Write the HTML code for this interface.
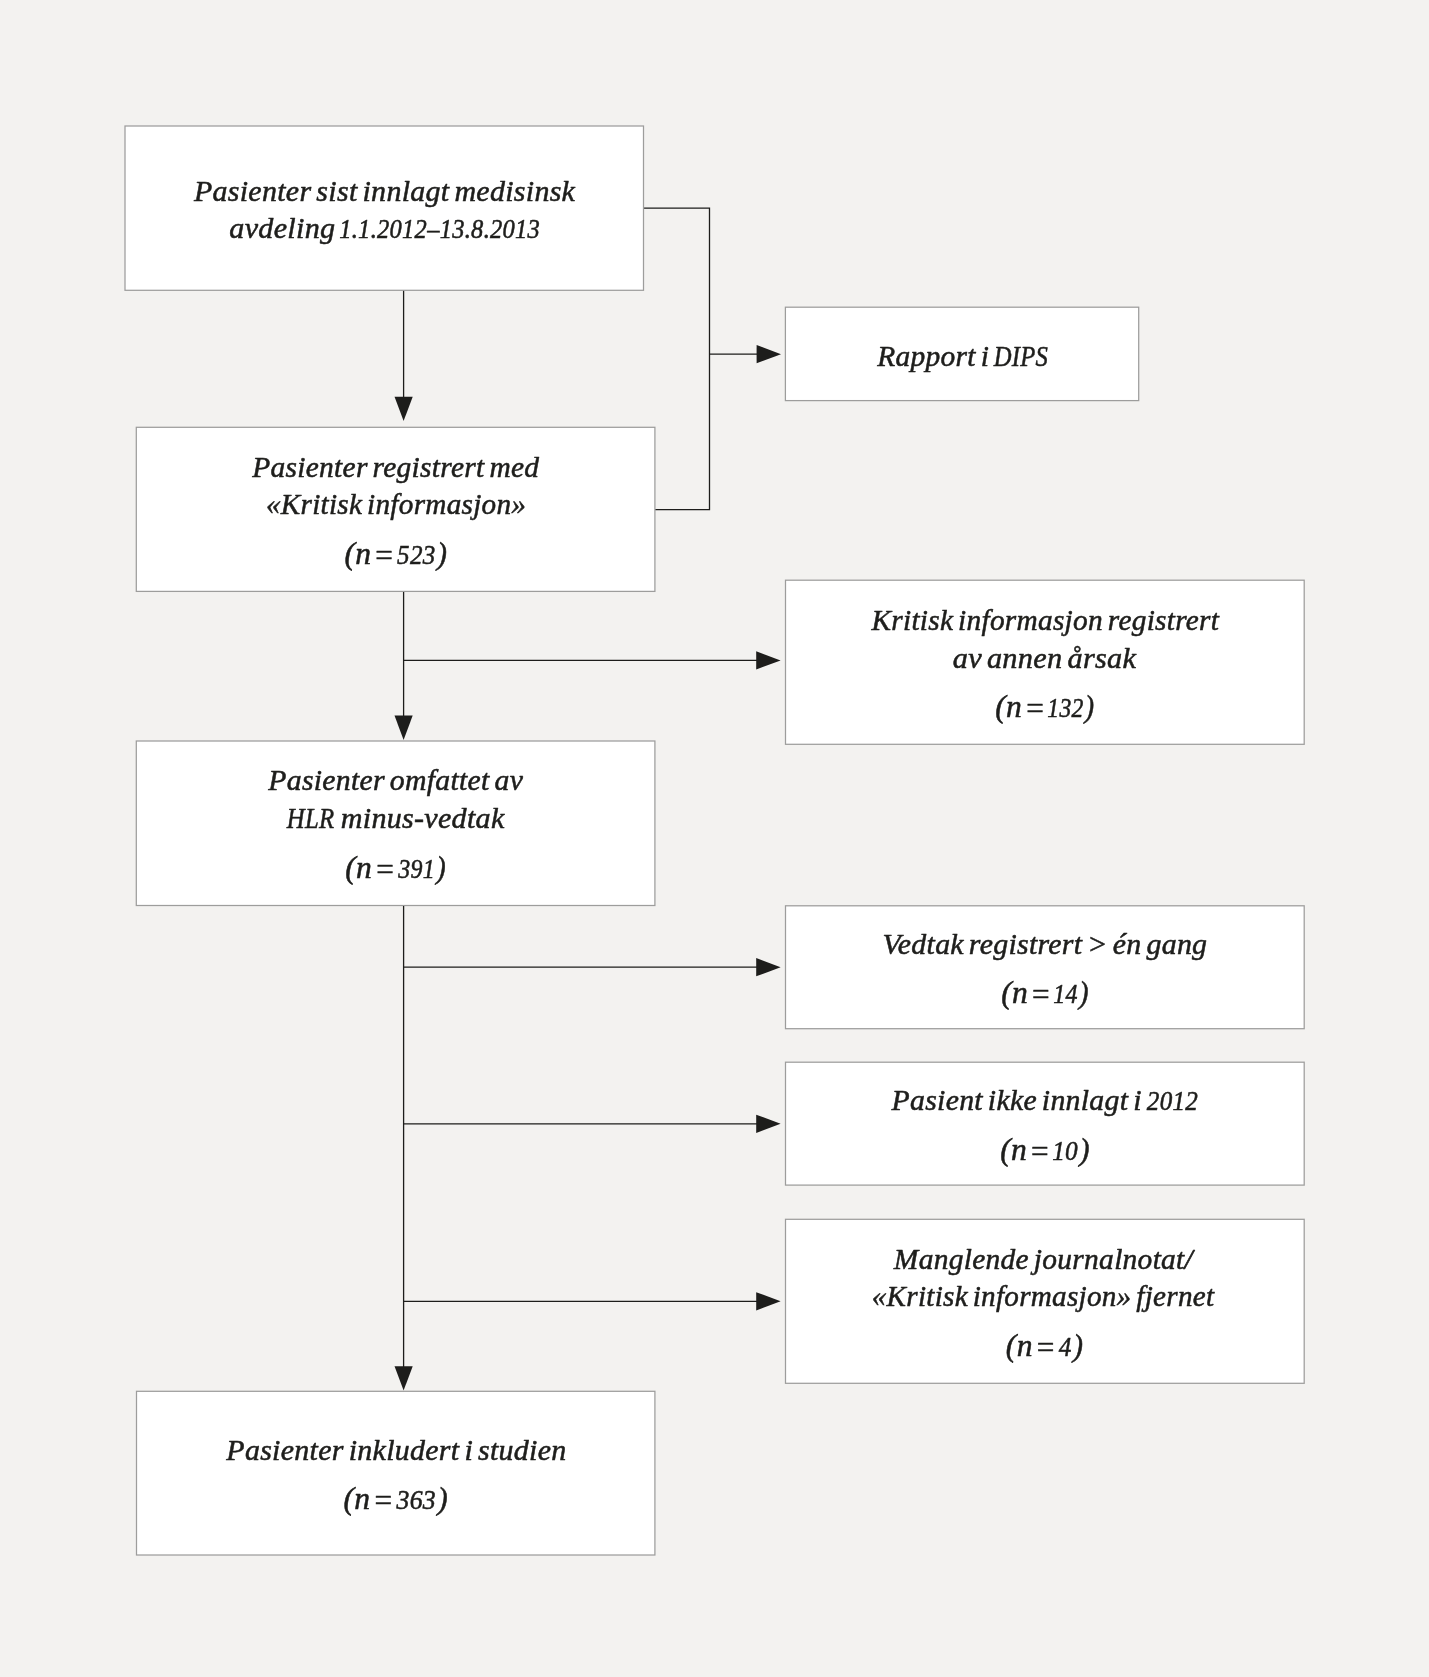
<!DOCTYPE html>
<html lang="no">
<head>
<meta charset="utf-8">
<title>Flytskjema</title>
<style>
html,body{margin:0;padding:0;background:#f3f2f0;}
svg{display:block;}
.t text{font-family:"Liberation Serif",serif;font-style:italic;font-size:30px;fill:#1d1d1b;stroke:#1d1d1b;stroke-width:0.55px;stroke-linejoin:round;white-space:pre;letter-spacing:0.3px;word-spacing:-2.8px;}
.t text.n{font-size:32px;}
.b rect{fill:#ffffff;stroke:#9d9d9c;stroke-width:1.25px;}
</style>
</head>
<body>
<svg width="1429" height="1677" viewBox="0 0 1429 1677">
<rect width="1429" height="1677" fill="#f3f2f0"/>
<g class="b">
<rect x="125.0" y="126.0" width="518.5" height="164.3"/>
<rect x="785.4" y="307.2" width="353.3" height="93.4"/>
<rect x="136.3" y="427.3" width="518.6" height="164.1"/>
<rect x="785.5" y="580.2" width="518.7" height="164.1"/>
<rect x="136.3" y="741.0" width="518.6" height="164.5"/>
<rect x="785.5" y="905.8" width="518.7" height="122.9"/>
<rect x="785.5" y="1062.2" width="518.7" height="122.9"/>
<rect x="785.5" y="1219.3" width="518.7" height="164.0"/>
<rect x="136.5" y="1391.3" width="518.4" height="163.7"/>
</g>
<g fill="none" stroke="#1d1d1b" stroke-width="1.3">
<path d="M403.6 290.9V398"/>
<path d="M644.1 208.1H709.5V509.7H655.5"/>
<path d="M709.5 354.2H757"/>
<path d="M403.6 592V716"/>
<path d="M403.6 660.4H757"/>
<path d="M403.6 906.1V1367"/>
<path d="M403.6 967.2H757"/>
<path d="M403.6 1123.8H757"/>
<path d="M403.6 1301.3H757"/>
</g>
<g fill="#1d1d1b">
<path d="M403.6 421.1L394.5 396.8H412.7Z"/>
<path d="M403.6 739.9L394.5 715.6H412.7Z"/>
<path d="M403.6 1390.5L394.5 1366.2H412.7Z"/>
<path d="M781 354.2L756.6 345.1V363.3Z"/>
<path d="M780.6 660.4L756.2 651.3V669.5Z"/>
<path d="M780.6 967.2L756.2 958.1V976.3Z"/>
<path d="M780.6 1123.8L756.2 1114.7V1132.9Z"/>
<path d="M780.6 1301.3L756.2 1292.2V1310.4Z"/>
</g>
<g class="t" opacity="0.995">
<text transform="translate(193.93 201) scale(0.9982 1)">Pasienter sist innlagt medisinsk</text>
<text transform="translate(229.33 238) scale(1.0035 1)">avdeling</text>
<text transform="translate(339.18 238) scale(0.9246 1)"><tspan font-size="26.5">1.1.2012–13.8.2013</tspan></text>
<text transform="translate(877.33 366) scale(0.9812 1)">Rapport i</text>
<text transform="translate(993.75 366) scale(0.8216 1)">DIPS</text>
<text transform="translate(252.13 477) scale(0.9819 1)">Pasienter registrert med</text>
<text transform="translate(265.90 514) scale(0.9729 1)">«Kritisk informasjon»</text>
<text class="n" transform="translate(344.44 564) scale(0.9868 1)">(n</text>
<text class="n" transform="translate(373.34 566) scale(0.9766 1)">=</text>
<text class="n" transform="translate(397.10 564) scale(0.9283 1)"><tspan font-size="27">523</tspan><tspan dx="1.5">)</tspan></text>
<text transform="translate(871.45 630) scale(0.9766 1)">Kritisk informasjon registrert</text>
<text transform="translate(952.73 668) scale(1.0090 1)">av annen årsak</text>
<text class="n" transform="translate(995.24 717) scale(0.9868 1)">(n</text>
<text class="n" transform="translate(1024.14 719) scale(0.9766 1)">=</text>
<text class="n" transform="translate(1047.32 717) scale(0.8752 1)"><tspan font-size="27">132</tspan><tspan dx="1.5">)</tspan></text>
<text transform="translate(268.33 790) scale(0.9908 1)">Pasienter omfattet av</text>
<text transform="translate(286.75 828) scale(0.8254 1)">HLR</text>
<text transform="translate(340.73 828) scale(1.0022 1)">minus-vedtak</text>
<text class="n" transform="translate(345.24 878) scale(0.9868 1)">(n</text>
<text class="n" transform="translate(374.14 880) scale(0.9766 1)">=</text>
<text class="n" transform="translate(398.20 878) scale(0.8869 1)"><tspan font-size="27">391</tspan><tspan dx="1.5">)</tspan></text>
<text transform="translate(882.57 954) scale(0.9953 1)">Vedtak registrert &gt; én gang</text>
<text class="n" transform="translate(1001.14 1003) scale(0.9868 1)">(n</text>
<text class="n" transform="translate(1030.04 1005) scale(0.9766 1)">=</text>
<text class="n" transform="translate(1053.21 1003) scale(0.8896 1)"><tspan font-size="27">14</tspan><tspan dx="1.5">)</tspan></text>
<text transform="translate(891.53 1110) scale(0.9922 1)">Pasient ikke innlagt i</text>
<text transform="translate(1146.82 1110) scale(0.9481 1)"><tspan font-size="26.5">2012</tspan></text>
<text class="n" transform="translate(1000.14 1160) scale(0.9868 1)">(n</text>
<text class="n" transform="translate(1029.04 1162) scale(0.9766 1)">=</text>
<text class="n" transform="translate(1052.18 1160) scale(0.9365 1)"><tspan font-size="27">10</tspan><tspan dx="1.5">)</tspan></text>
<text transform="translate(893.85 1269) scale(0.9815 1)">Manglende journalnotat/</text>
<text transform="translate(871.71 1306) scale(0.9710 1)">«Kritisk informasjon» fjernet</text>
<text class="n" transform="translate(1005.84 1356) scale(0.9868 1)">(n</text>
<text class="n" transform="translate(1034.74 1358) scale(0.9766 1)">=</text>
<text class="n" transform="translate(1058.81 1356) scale(0.9351 1)"><tspan font-size="27">4</tspan><tspan dx="1.5">)</tspan></text>
<text transform="translate(226.33 1460) scale(0.9979 1)">Pasienter inkludert i studien</text>
<text class="n" transform="translate(343.54 1509) scale(0.9868 1)">(n</text>
<text class="n" transform="translate(372.44 1511) scale(0.9766 1)">=</text>
<text class="n" transform="translate(396.52 1509) scale(0.9544 1)"><tspan font-size="27">363</tspan><tspan dx="1.5">)</tspan></text>
</g>
</svg>
</body>
</html>
